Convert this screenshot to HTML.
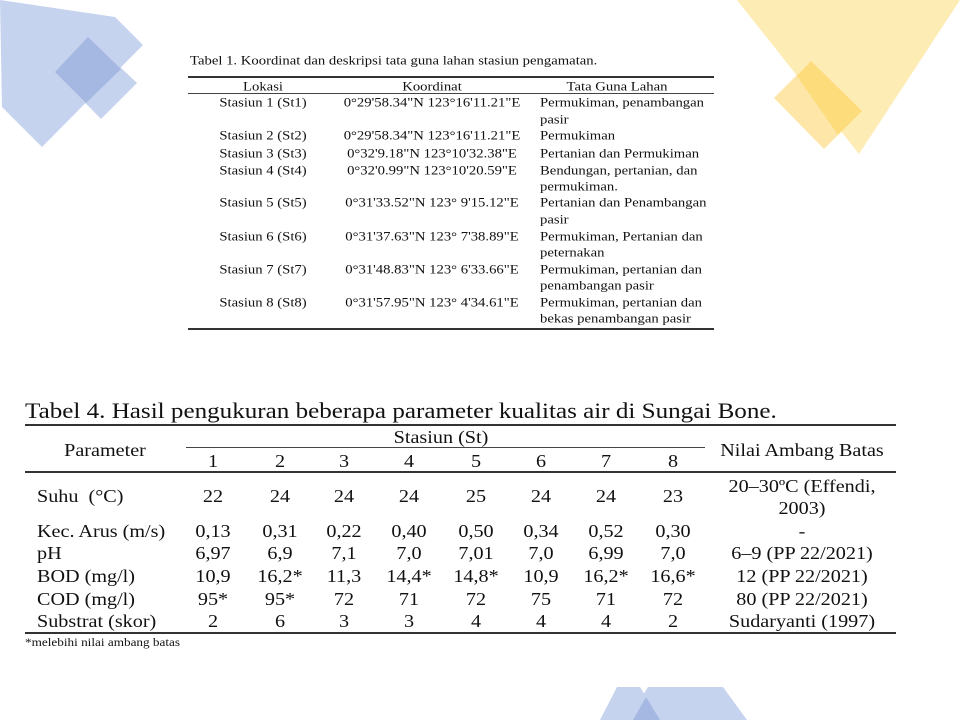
<!DOCTYPE html>
<html><head><meta charset="utf-8"><style>
body{margin:0;width:960px;height:720px;overflow:hidden;background:#fff;position:relative;font-family:"Liberation Serif",serif;color:#111}
.t{position:absolute;white-space:nowrap;line-height:1;transform:translate(-50%,-50%) scaleX(1.12)}
.l{position:absolute;white-space:nowrap;line-height:1;transform-origin:0 50%;transform:translateY(-50%) scaleX(1.12)}
.s{font-size:13px}.b{font-size:18px}
.t.s{transform:translate(-50%,-50%) scaleX(1.13)}
.l.s{transform:translateY(-50%) scaleX(1.13)}
.r{position:absolute;height:2px;background:#333}
.r1{position:absolute;height:1px;background:#444}
svg{position:absolute;left:0;top:0}
</style></head><body>
<svg width="960" height="720">
<polygon points="0,0 115,17 143,45 42,147 2,107" fill="#c5d3ee"/>
<polygon points="88,37 137,83 101,119 55,72" fill="#c5d3ee"/>
<polygon points="88,37 121,69 86,103 55,72" fill="#a4b8e2"/>
<polygon points="737,0 960,0 859,154" fill="#feecb5"/>
<polygon points="811,61 862,111 824,149 774,98" fill="#fde6a8"/>
<polygon points="811,61 862,111 838,135 797,76" fill="#fddc7c"/>
<polygon points="617,687 640,687 660,720 600,720" fill="#c5d3ee"/>
<polygon points="648,687 723,687 747,720 627,720" fill="#c5d3ee"/>
<polygon points="646,697 660,720 633,720" fill="#a4b8e2"/>
</svg>

<div class="l s" style="left:190px;top:60px">Tabel 1. Koordinat dan deskripsi tata guna lahan stasiun pengamatan.</div>
<div class="r" style="left:188px;top:76px;width:526px"></div>
<div class="t s" style="left:263px;top:86px">Lokasi</div>
<div class="t s" style="left:432px;top:86px">Koordinat</div>
<div class="t s" style="left:617px;top:86px">Tata Guna Lahan</div>
<div class="r1" style="left:188px;top:93px;width:526px"></div>

<div class="t s" style="left:263px;top:102px">Stasiun 1 (St1)</div><div class="t s" style="left:432px;top:102px">0°29'58.34"N 123°16'11.21"E</div><div class="l s" style="left:540px;top:102px">Permukiman, penambangan</div><div class="l s" style="left:540px;top:119px">pasir</div>
<div class="t s" style="left:263px;top:135px">Stasiun 2 (St2)</div><div class="t s" style="left:432px;top:135px">0°29'58.34"N 123°16'11.21"E</div><div class="l s" style="left:540px;top:135px">Permukiman</div>
<div class="t s" style="left:263px;top:153px">Stasiun 3 (St3)</div><div class="t s" style="left:432px;top:153px">0°32'9.18"N 123°10'32.38"E</div><div class="l s" style="left:540px;top:153px">Pertanian dan Permukiman</div>
<div class="t s" style="left:263px;top:170px">Stasiun 4 (St4)</div><div class="t s" style="left:432px;top:170px">0°32'0.99"N 123°10'20.59"E</div><div class="l s" style="left:540px;top:170px">Bendungan, pertanian, dan</div><div class="l s" style="left:540px;top:186px">permukiman.</div>
<div class="t s" style="left:263px;top:202px">Stasiun 5 (St5)</div><div class="t s" style="left:432px;top:202px">0°31'33.52"N 123° 9'15.12"E</div><div class="l s" style="left:540px;top:202px">Pertanian dan Penambangan</div><div class="l s" style="left:540px;top:219px">pasir</div>
<div class="t s" style="left:263px;top:236px">Stasiun 6 (St6)</div><div class="t s" style="left:432px;top:236px">0°31'37.63"N 123° 7'38.89"E</div><div class="l s" style="left:540px;top:236px">Permukiman, Pertanian dan</div><div class="l s" style="left:540px;top:252px">peternakan</div>
<div class="t s" style="left:263px;top:269px">Stasiun 7 (St7)</div><div class="t s" style="left:432px;top:269px">0°31'48.83"N 123° 6'33.66"E</div><div class="l s" style="left:540px;top:269px">Permukiman, pertanian dan</div><div class="l s" style="left:540px;top:285px">penambangan pasir</div>
<div class="t s" style="left:263px;top:302px">Stasiun 8 (St8)</div><div class="t s" style="left:432px;top:302px">0°31'57.95"N 123° 4'34.61"E</div><div class="l s" style="left:540px;top:302px">Permukiman, pertanian dan</div><div class="l s" style="left:540px;top:318px">bekas penambangan pasir</div>
<div class="r" style="left:188px;top:328px;width:526px"></div>

<div class="l" style="left:25px;top:411px;font-size:22px;transform:translateY(-50%) scaleX(1.14)">Tabel 4. Hasil pengukuran beberapa parameter kualitas air di Sungai Bone.</div>
<div class="r" style="left:25px;top:424px;width:871px"></div>
<div class="t b" style="left:105px;top:450px">Parameter</div>
<div class="t b" style="left:441px;top:437px">Stasiun (St)</div>
<div class="t b" style="left:802px;top:450px">Nilai Ambang Batas</div>
<div class="r1" style="left:186px;top:447px;width:519px"></div>
<div class="t b" style="left:213px;top:461px">1</div><div class="t b" style="left:280px;top:461px">2</div><div class="t b" style="left:344px;top:461px">3</div><div class="t b" style="left:409px;top:461px">4</div><div class="t b" style="left:476px;top:461px">5</div><div class="t b" style="left:541px;top:461px">6</div><div class="t b" style="left:606px;top:461px">7</div><div class="t b" style="left:673px;top:461px">8</div>
<div class="r" style="left:25px;top:471px;width:871px"></div>

<div class="l b" style="left:37px;top:496px">Suhu &nbsp;(°C)</div>
<div class="t b" style="left:213px;top:496px">22</div><div class="t b" style="left:280px;top:496px">24</div><div class="t b" style="left:344px;top:496px">24</div><div class="t b" style="left:409px;top:496px">24</div><div class="t b" style="left:476px;top:496px">25</div><div class="t b" style="left:541px;top:496px">24</div><div class="t b" style="left:606px;top:496px">24</div><div class="t b" style="left:673px;top:496px">23</div>
<div class="t b" style="left:802px;top:486px">20–30ºC (Effendi,</div><div class="t b" style="left:802px;top:508px">2003)</div>

<div class="l b" style="left:37px;top:531px">Kec. Arus (m/s)</div>
<div class="t b" style="left:213px;top:531px">0,13</div><div class="t b" style="left:280px;top:531px">0,31</div><div class="t b" style="left:344px;top:531px">0,22</div><div class="t b" style="left:409px;top:531px">0,40</div><div class="t b" style="left:476px;top:531px">0,50</div><div class="t b" style="left:541px;top:531px">0,34</div><div class="t b" style="left:606px;top:531px">0,52</div><div class="t b" style="left:673px;top:531px">0,30</div><div class="t b" style="left:802px;top:531px">-</div>

<div class="l b" style="left:37px;top:553px">pH</div>
<div class="t b" style="left:213px;top:553px">6,97</div><div class="t b" style="left:280px;top:553px">6,9</div><div class="t b" style="left:344px;top:553px">7,1</div><div class="t b" style="left:409px;top:553px">7,0</div><div class="t b" style="left:476px;top:553px">7,01</div><div class="t b" style="left:541px;top:553px">7,0</div><div class="t b" style="left:606px;top:553px">6,99</div><div class="t b" style="left:673px;top:553px">7,0</div><div class="t b" style="left:802px;top:553px">6–9 (PP 22/2021)</div>

<div class="l b" style="left:37px;top:576px">BOD (mg/l)</div>
<div class="t b" style="left:213px;top:576px">10,9</div><div class="t b" style="left:280px;top:576px">16,2*</div><div class="t b" style="left:344px;top:576px">11,3</div><div class="t b" style="left:409px;top:576px">14,4*</div><div class="t b" style="left:476px;top:576px">14,8*</div><div class="t b" style="left:541px;top:576px">10,9</div><div class="t b" style="left:606px;top:576px">16,2*</div><div class="t b" style="left:673px;top:576px">16,6*</div><div class="t b" style="left:802px;top:576px">12 (PP 22/2021)</div>

<div class="l b" style="left:37px;top:599px">COD (mg/l)</div>
<div class="t b" style="left:213px;top:599px">95*</div><div class="t b" style="left:280px;top:599px">95*</div><div class="t b" style="left:344px;top:599px">72</div><div class="t b" style="left:409px;top:599px">71</div><div class="t b" style="left:476px;top:599px">72</div><div class="t b" style="left:541px;top:599px">75</div><div class="t b" style="left:606px;top:599px">71</div><div class="t b" style="left:673px;top:599px">72</div><div class="t b" style="left:802px;top:599px">80 (PP 22/2021)</div>

<div class="l b" style="left:37px;top:621px">Substrat (skor)</div>
<div class="t b" style="left:213px;top:621px">2</div><div class="t b" style="left:280px;top:621px">6</div><div class="t b" style="left:344px;top:621px">3</div><div class="t b" style="left:409px;top:621px">3</div><div class="t b" style="left:476px;top:621px">4</div><div class="t b" style="left:541px;top:621px">4</div><div class="t b" style="left:606px;top:621px">4</div><div class="t b" style="left:673px;top:621px">2</div><div class="t b" style="left:802px;top:621px">Sudaryanti (1997)</div>
<div class="r" style="left:25px;top:632px;width:871px"></div>
<div class="l" style="left:25px;top:642px;font-size:12px;transform:translateY(-50%) scaleX(1.1)">*melebihi nilai ambang batas</div>
</body></html>
